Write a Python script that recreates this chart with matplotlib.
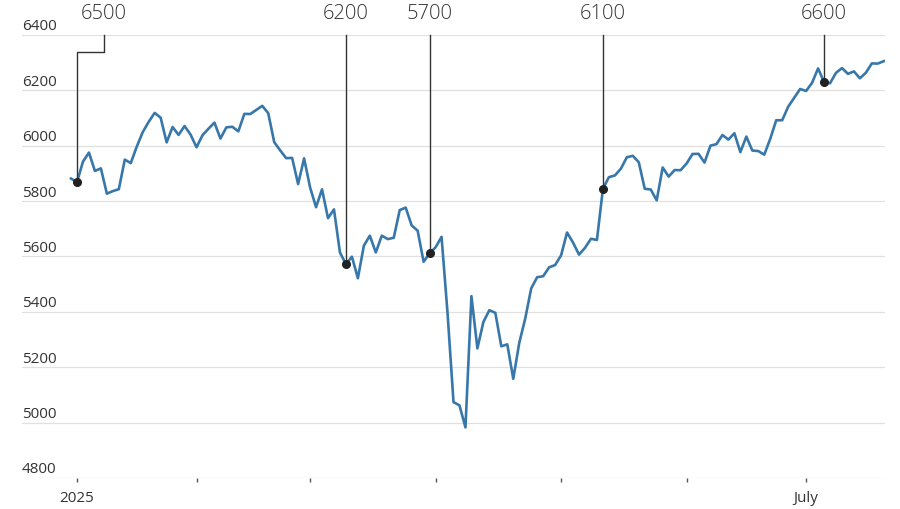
import matplotlib.pyplot as plt
import numpy as np
import pandas as pd

plt.rcParams['font.family'] = ['Open Sans', 'DejaVu Sans']

# trading days, Dec 31 2024 .. Jul 21 2025
holidays = ['2025-01-01', '2025-01-09', '2025-01-20', '2025-02-17',
            '2025-04-18', '2025-05-26', '2025-06-19', '2025-07-04']
dates = pd.bdate_range('2024-12-31', '2025-07-21', freq='C', holidays=holidays)

close = [
    5881.63,
    # Jan
    5868.55, 5942.47, 5975.38, 5909.03, 5918.25, 5827.04, 5836.22, 5842.91, 5949.91, 5937.34,
    5996.66, 6049.24, 6086.37, 6118.71, 6101.24, 6012.28, 6067.70, 6039.31, 6071.17, 6040.53,
    # Feb
    5994.57, 6037.88, 6061.48, 6083.57, 6025.99, 6066.44, 6068.50, 6051.97, 6115.07, 6114.63,
    6129.58, 6144.15, 6117.52, 6013.13, 5983.25, 5955.25, 5956.06, 5861.57, 5954.50,
    # Mar
    5849.72, 5778.15, 5842.63, 5738.52, 5770.20, 5614.56, 5572.07, 5599.30, 5521.52, 5638.94,
    5675.12, 5614.66, 5675.29, 5662.89, 5667.56, 5767.57, 5776.65, 5712.20, 5693.31, 5580.94,
    5611.85,
    # Apr
    5633.07, 5670.97, 5396.52, 5074.08, 5062.25, 4982.77, 5456.90, 5268.05, 5363.36, 5405.97,
    5396.63, 5275.70, 5282.70, 5158.20, 5287.76, 5375.86, 5484.77, 5525.21, 5528.75, 5560.83,
    5569.06,
    # May
    5604.14, 5686.67, 5650.38, 5606.91, 5631.28, 5663.94, 5659.91, 5844.19, 5886.55, 5892.58,
    5916.93, 5958.38, 5963.60, 5940.46, 5844.61, 5842.01, 5802.82, 5921.54, 5888.55, 5912.17,
    5911.69,
    # Jun
    5935.94, 5970.37, 5970.81, 5939.30, 6000.36, 6005.88, 6038.81, 6022.24, 6045.26, 5976.97,
    6033.11, 5982.72, 5980.87, 5967.84, 6025.17, 6092.18, 6092.16, 6141.02, 6173.07, 6204.95,
    # Jul
    6198.01, 6227.42, 6279.35, 6229.98, 6225.52, 6263.26, 6280.46, 6259.75, 6268.56, 6243.76,
    6263.70, 6297.36, 6296.79, 6305.60,
]
assert len(close) == len(dates)

pick_dates = ['2025-01-02', '2025-03-11', '2025-03-31', '2025-05-12', '2025-07-07']
pick_labels = ['6500', '6200', '5700', '6100', '6600']

yticks = [4800, 5000, 5200, 5400, 5600, 5800, 6000, 6200, 6400]

line_col = '#3877aa'
text_col = '#333333'

fig = plt.figure(figsize=(9, 5.1), dpi=100)
ax = fig.add_axes([22 / 900, 31 / 510, 863 / 900, 443 / 510])

x = np.arange(len(dates))
ax.plot(x, close, color=line_col, lw=1.9, zorder=3)
ax.set_xlim(-8.2, 136.2)
ax.set_ylim(4800, 6400)

# gridlines + labels sitting above them
for v in yticks:
    ax.axhline(v, color='#e0e0e0', lw=0.9, zorder=1)
    ax.annotate(str(v), xy=(0, v), xycoords=ax.get_yaxis_transform(),
                xytext=(0, 6.5), textcoords='offset points',
                ha='left', va='center', fontsize=11, color=text_col)
ax.set_yticks([])

# month ticks at first trading day of each month
month_pos = [np.where((dates.year == 2025) & (dates.month == m))[0][0] for m in range(1, 8)]
month_lab = ['2025', '', '', '', '', '', 'July']
ax.set_xticks(month_pos)
ax.set_xticklabels(month_lab)
ax.tick_params(axis='x', length=3, width=1, color='#555555', pad=6,
               labelsize=11, labelcolor=text_col)

for s in ax.spines.values():
    s.set_visible(False)

# forecast annotations
for k, (d, lab) in enumerate(zip(pick_dates, pick_labels)):
    i = dates.get_loc(pd.Timestamp(d))
    y = close[i]
    if k == 0:
        # first label pushed right with an elbow so it clears the axis labels
        lx = i + 4.5
        ax.plot([i, i, lx, lx], [y, 6340, 6340, 6400], color='#333333', lw=1,
                zorder=4, clip_on=False)
    else:
        lx = i
        ax.plot([i, i], [y, 6400], color='#333333', lw=1, zorder=4, clip_on=False)
    ax.plot(i, y, 'o', color='#222222', ms=5.5, zorder=5)
    ax.annotate(lab, xy=(lx, 6400), xytext=(0, 15.5), textcoords='offset points',
                ha='center', va='center', fontsize=14.5, fontweight='light',
                color=text_col, annotation_clip=False)

fig.savefig('out.png', dpi=100, facecolor='white')
